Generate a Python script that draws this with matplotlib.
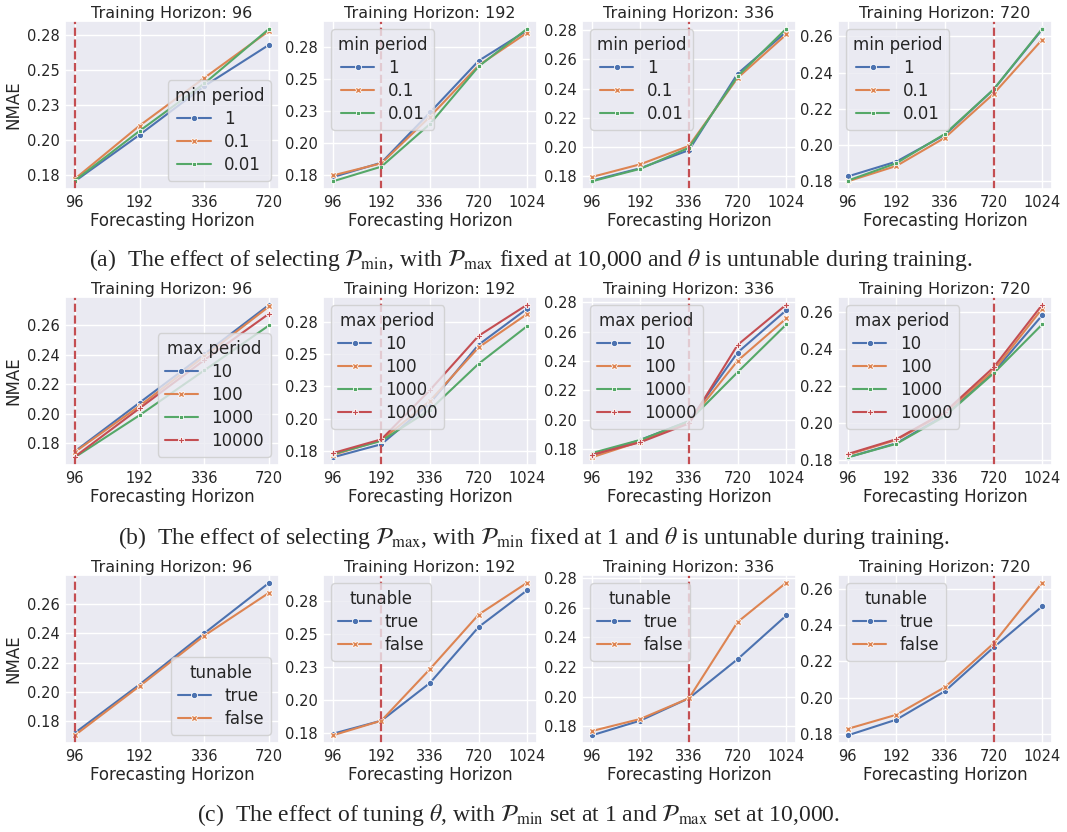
import numpy as np
import matplotlib
matplotlib.use("Agg")
import matplotlib.pyplot as plt
import seaborn as sns
from matplotlib.ticker import MultipleLocator, FuncFormatter
from decimal import Decimal, ROUND_HALF_UP

# ---------------------------------------------------------------- data
training_horizons = [96, 192, 336, 720]
forecast_short = ["96", "192", "336", "720"]
forecast_long = ["96", "192", "336", "720", "1024"]

min_period_levels = ["1", "0.1", "0.01"]
max_period_levels = ["10", "100", "1000", "10000"]
tunable_levels = ["true", "false"]

# (a) NMAE per min period, one list per level
nmae_min_th96 = [[0.1702, 0.2036, 0.2386, 0.2683],
                 [0.1719, 0.2102, 0.2445, 0.2783],
                 [0.1707, 0.2064, 0.2405, 0.2798]]
nmae_min_th192 = [[0.1732, 0.1845, 0.2237, 0.2640, 0.2878],
                  [0.1745, 0.1840, 0.2204, 0.2604, 0.2860],
                  [0.1699, 0.1814, 0.2147, 0.2596, 0.2891]]
nmae_min_th336 = [[0.1771, 0.1856, 0.1980, 0.2503, 0.2789],
                  [0.1796, 0.1883, 0.2009, 0.2474, 0.2771],
                  [0.1766, 0.1852, 0.1996, 0.2485, 0.2811]]
nmae_min_th720 = [[0.1827, 0.1909, 0.2057, 0.2307, 0.2638],
                  [0.1800, 0.1885, 0.2041, 0.2283, 0.2582],
                  [0.1804, 0.1900, 0.2062, 0.2307, 0.2642]]

# (b) NMAE per max period
nmae_max_th96 = [[0.1746, 0.2076, 0.2405, 0.2739],
                 [0.1742, 0.2054, 0.2390, 0.2728],
                 [0.1706, 0.1991, 0.2295, 0.2600],
                 [0.1710, 0.2038, 0.2365, 0.2679]]
nmae_max_th192 = [[0.1699, 0.1801, 0.2120, 0.2574, 0.2854],
                  [0.1717, 0.1832, 0.2138, 0.2553, 0.2813],
                  [0.1724, 0.1827, 0.2069, 0.2426, 0.2719],
                  [0.1732, 0.1839, 0.2222, 0.2643, 0.2885]]
nmae_max_th336 = [[0.1755, 0.1863, 0.1991, 0.2458, 0.2746],
                  [0.1744, 0.1852, 0.1987, 0.2402, 0.2690],
                  [0.1773, 0.1863, 0.1991, 0.2324, 0.2649],
                  [0.1762, 0.1847, 0.1975, 0.2510, 0.2784]]
nmae_max_th720 = [[0.1816, 0.1892, 0.2044, 0.2275, 0.2582],
                  [0.1830, 0.1910, 0.2056, 0.2284, 0.2618],
                  [0.1816, 0.1889, 0.2038, 0.2269, 0.2533],
                  [0.1834, 0.1914, 0.2061, 0.2301, 0.2639]]

# (c) NMAE with tunable / fixed theta
nmae_tun_th96 = [[0.1721, 0.2052, 0.2402, 0.2747],
                 [0.1705, 0.2041, 0.2386, 0.2679]]
nmae_tun_th192 = [[0.1745, 0.1844, 0.2129, 0.2551, 0.2829],
                  [0.1733, 0.1844, 0.2234, 0.2645, 0.2886]]
nmae_tun_th336 = [[0.1738, 0.1838, 0.1989, 0.2253, 0.2548],
                  [0.1767, 0.1849, 0.1989, 0.2504, 0.2770]]
nmae_tun_th720 = [[0.1791, 0.1878, 0.2036, 0.2278, 0.2505],
                  [0.1827, 0.1905, 0.2058, 0.2300, 0.2636]]

captions = [
    r"(a)  The effect of selecting $\mathcal{P}_{\min}$, with $\mathcal{P}_{\max}$ fixed at 10,000 and $\theta$ is untunable during training.",
    r"(b)  The effect of selecting $\mathcal{P}_{\max}$, with $\mathcal{P}_{\min}$ fixed at 1 and $\theta$ is untunable during training.",
    r"(c)  The effect of tuning $\theta$, with $\mathcal{P}_{\min}$ set at 1 and $\mathcal{P}_{\max}$ set at 10,000.",
]

# ---------------------------------------------------------------- style
sns.set_theme(style="darkgrid")
plt.rcParams["font.family"] = ["DejaVu Sans"]
plt.rcParams["mathtext.fontset"] = "stix"

palette = sns.color_palette("deep")
marker_cycle = ["o", "X", (4, 0, 45), "P"]


def two_decimals(v, _pos):
    d = Decimal(f"{float(v):.6f}").quantize(Decimal("0.01"), rounding=ROUND_HALF_UP)
    return f"{d}"


def draw_panel(ax, cats, series, levels, legend_title, train_h, ystep,
               legend_loc, show_ylabel):
    xpos = np.arange(len(cats))
    for i, (lvl, vals) in enumerate(zip(levels, series)):
        ax.plot(xpos, vals, color=palette[i], marker=marker_cycle[i],
                markersize=4.5, markeredgecolor="white", markeredgewidth=0.6,
                lw=1.5, label=lvl)
    ax.axvline(cats.index(str(train_h)), color=palette[3], ls="--", lw=1.6)
    ax.set_xticks(xpos)
    ax.set_xticklabels(cats)
    ax.yaxis.set_major_locator(MultipleLocator(ystep))
    ax.yaxis.set_major_formatter(FuncFormatter(two_decimals))
    ax.tick_params(labelsize=10.5, length=0, pad=4)
    ax.set_title(f"Training Horizon: {train_h}", fontsize=11.5, pad=2.5)
    ax.set_xlabel("Forecasting Horizon", fontsize=12, labelpad=1.5)
    if show_ylabel:
        ax.set_ylabel("NMAE", fontsize=12, labelpad=3)
    leg = ax.legend(title=legend_title, loc=legend_loc, fontsize=12,
                    title_fontsize=12, handlelength=2.0, borderpad=0.4,
                    labelspacing=0.3)
    leg.get_frame().set_edgecolor("0.8")


fig = plt.figure(figsize=(10.67, 8.32), dpi=100)
W, H = 1067.0, 832.0
col_left = [65, 323, 582, 838]
row_top = [21, 297, 575]
ax_w, ax_h = 214, 168

rows = [
    ([nmae_min_th96, nmae_min_th192, nmae_min_th336, nmae_min_th720],
     min_period_levels, "min period", [0.025, 0.025, 0.02, 0.02]),
    ([nmae_max_th96, nmae_max_th192, nmae_max_th336, nmae_max_th720],
     max_period_levels, "max period", [0.02, 0.025, 0.02, 0.02]),
    ([nmae_tun_th96, nmae_tun_th192, nmae_tun_th336, nmae_tun_th720],
     tunable_levels, "tunable", [0.02, 0.025, 0.02, 0.02]),
]

for r, (panels, levels, ltitle, steps) in enumerate(rows):
    for c, th in enumerate(training_horizons):
        ax = fig.add_axes([col_left[c] / W, 1 - (row_top[r] + ax_h) / H,
                           ax_w / W, ax_h / H])
        cats = forecast_short if c == 0 else forecast_long
        loc = "lower right" if c == 0 else "upper left"
        draw_panel(ax, cats, panels[c], levels, ltitle, th, steps[c], loc, c == 0)

caption_x = [531, 534, 518]
caption_y = [260, 538, 815]
for cap, xx, yy in zip(captions, caption_x, caption_y):
    fig.text(xx / W, 1 - yy / H, cap, ha="center", va="center",
             fontsize=17, family="Liberation Serif")

fig.savefig("out.png", dpi=100)
